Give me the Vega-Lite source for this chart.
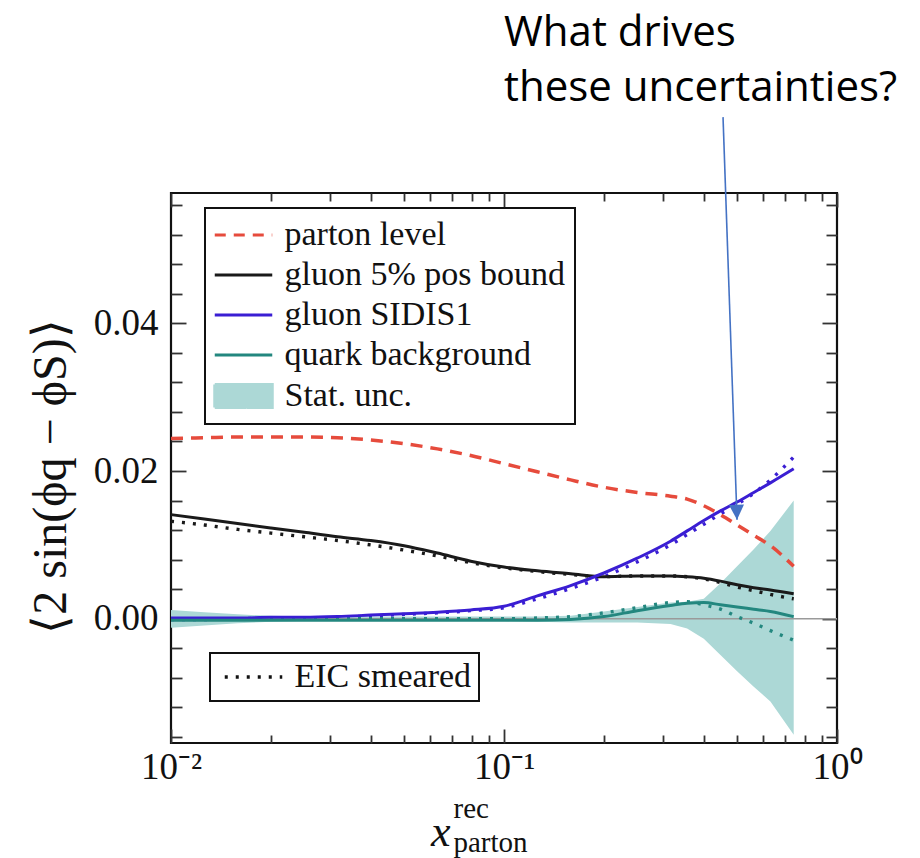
{
  "$schema": "https://vega.github.io/schema/vega-lite/v6.json",
  "width": 666,
  "height": 550,
  "autosize": {"type": "none"},
  "padding": {"left": 171, "top": 193, "right": 83, "bottom": 115},
  "background": "white",
  "config": {
    "view": {"stroke": "#111111", "strokeWidth": 2.2},
    "axis": {
      "grid": false,
      "domain": false,
      "tickColor": "#333333",
      "tickWidth": 1.8,
      "labelFont": "Liberation Serif",
      "labelFontSize": 37,
      "labelColor": "#111111",
      "titleFont": "Liberation Serif",
      "titleColor": "#111111",
      "titleFontWeight": "normal"
    },
    "legend": {
      "labelFont": "Liberation Serif",
      "labelColor": "#111111",
      "strokeColor": "#111111",
      "strokeWidth": 2,
      "fillColor": "white"
    }
  },
  "title": {
    "text": ["What drives", "these uncertainties?"],
    "anchor": "middle",
    "align": "left",
    "frame": "group",
    "font": "Open Sans",
    "fontSize": 42,
    "fontWeight": "normal",
    "color": "#000000",
    "lineHeight": 55,
    "offset": 6
  },
  "resolve": {"axis": {"x": "independent", "y": "independent"}},
  "datasets": {
    "band": [
      {"x": 0.01, "lo": -0.0012, "hi": 0.0012, "series": "Stat. unc."},
      {"x": 0.012589, "lo": -0.0009, "hi": 0.0009, "series": "Stat. unc."},
      {"x": 0.015849, "lo": -0.0006, "hi": 0.0006, "series": "Stat. unc."},
      {"x": 0.019953, "lo": -0.0004, "hi": 0.0004, "series": "Stat. unc."},
      {"x": 0.025119, "lo": -0.0003, "hi": 0.0003, "series": "Stat. unc."},
      {"x": 0.031623, "lo": -0.0003, "hi": 0.0003, "series": "Stat. unc."},
      {"x": 0.039811, "lo": -0.0003, "hi": 0.0003, "series": "Stat. unc."},
      {"x": 0.050119, "lo": -0.0003, "hi": 0.0003, "series": "Stat. unc."},
      {"x": 0.063096, "lo": -0.0003, "hi": 0.0003, "series": "Stat. unc."},
      {"x": 0.079433, "lo": -0.0003, "hi": 0.0003, "series": "Stat. unc."},
      {"x": 0.1, "lo": -0.0003, "hi": 0.0003, "series": "Stat. unc."},
      {"x": 0.125893, "lo": -0.0004, "hi": 0.0003, "series": "Stat. unc."},
      {"x": 0.158489, "lo": -0.0005, "hi": 0.0004, "series": "Stat. unc."},
      {"x": 0.199526, "lo": -0.0005, "hi": 0.0010, "series": "Stat. unc."},
      {"x": 0.251189, "lo": -0.0005, "hi": 0.0016, "series": "Stat. unc."},
      {"x": 0.316228, "lo": -0.0007, "hi": 0.0022, "series": "Stat. unc."},
      {"x": 0.354813, "lo": -0.0013, "hi": 0.0023, "series": "Stat. unc."},
      {"x": 0.398107, "lo": -0.0027, "hi": 0.0027, "series": "Stat. unc."},
      {"x": 0.446684, "lo": -0.0049, "hi": 0.0048, "series": "Stat. unc."},
      {"x": 0.501187, "lo": -0.0071, "hi": 0.0071, "series": "Stat. unc."},
      {"x": 0.562341, "lo": -0.0092, "hi": 0.0094, "series": "Stat. unc."},
      {"x": 0.630957, "lo": -0.0112, "hi": 0.0119, "series": "Stat. unc."},
      {"x": 0.74131, "lo": -0.0157, "hi": 0.0160, "series": "Stat. unc."}
    ],
    "zero": [{"x": 0.01, "x2": 1, "y": 0}],
    "parton": [
      {"x": 0.01, "y": 0.0244, "series": "parton level"},
      {"x": 0.012589, "y": 0.0245, "series": "parton level"},
      {"x": 0.015849, "y": 0.0246, "series": "parton level"},
      {"x": 0.019953, "y": 0.0246, "series": "parton level"},
      {"x": 0.025119, "y": 0.0246, "series": "parton level"},
      {"x": 0.031623, "y": 0.0245, "series": "parton level"},
      {"x": 0.039811, "y": 0.0242, "series": "parton level"},
      {"x": 0.050119, "y": 0.0237, "series": "parton level"},
      {"x": 0.063096, "y": 0.0230, "series": "parton level"},
      {"x": 0.079433, "y": 0.0221, "series": "parton level"},
      {"x": 0.1, "y": 0.0210, "series": "parton level"},
      {"x": 0.125893, "y": 0.0199, "series": "parton level"},
      {"x": 0.158489, "y": 0.0188, "series": "parton level"},
      {"x": 0.199526, "y": 0.0178, "series": "parton level"},
      {"x": 0.251189, "y": 0.0171, "series": "parton level"},
      {"x": 0.316228, "y": 0.0166, "series": "parton level"},
      {"x": 0.354813, "y": 0.0162, "series": "parton level"},
      {"x": 0.398107, "y": 0.0153, "series": "parton level"},
      {"x": 0.446684, "y": 0.0141, "series": "parton level"},
      {"x": 0.501187, "y": 0.0127, "series": "parton level"},
      {"x": 0.562341, "y": 0.0113, "series": "parton level"},
      {"x": 0.630957, "y": 0.0099, "series": "parton level"},
      {"x": 0.74131, "y": 0.0071, "series": "parton level"}
    ],
    "solid": [
      {"x": 0.01, "y": 0.0141, "series": "gluon 5% pos bound"},
      {"x": 0.012589, "y": 0.0135, "series": "gluon 5% pos bound"},
      {"x": 0.015849, "y": 0.0129, "series": "gluon 5% pos bound"},
      {"x": 0.019953, "y": 0.0123, "series": "gluon 5% pos bound"},
      {"x": 0.025119, "y": 0.0117, "series": "gluon 5% pos bound"},
      {"x": 0.031623, "y": 0.0111, "series": "gluon 5% pos bound"},
      {"x": 0.039811, "y": 0.0106, "series": "gluon 5% pos bound"},
      {"x": 0.050119, "y": 0.0099, "series": "gluon 5% pos bound"},
      {"x": 0.063096, "y": 0.0089, "series": "gluon 5% pos bound"},
      {"x": 0.079433, "y": 0.0078, "series": "gluon 5% pos bound"},
      {"x": 0.1, "y": 0.0070, "series": "gluon 5% pos bound"},
      {"x": 0.125893, "y": 0.0065, "series": "gluon 5% pos bound"},
      {"x": 0.158489, "y": 0.0061, "series": "gluon 5% pos bound"},
      {"x": 0.199526, "y": 0.0057, "series": "gluon 5% pos bound"},
      {"x": 0.251189, "y": 0.0058, "series": "gluon 5% pos bound"},
      {"x": 0.316228, "y": 0.0058, "series": "gluon 5% pos bound"},
      {"x": 0.354813, "y": 0.0057, "series": "gluon 5% pos bound"},
      {"x": 0.398107, "y": 0.0055, "series": "gluon 5% pos bound"},
      {"x": 0.446684, "y": 0.0051, "series": "gluon 5% pos bound"},
      {"x": 0.501187, "y": 0.0046, "series": "gluon 5% pos bound"},
      {"x": 0.562341, "y": 0.0042, "series": "gluon 5% pos bound"},
      {"x": 0.630957, "y": 0.0039, "series": "gluon 5% pos bound"},
      {"x": 0.74131, "y": 0.0034, "series": "gluon 5% pos bound"},
      {"x": 0.01, "y": 0.0001, "series": "gluon SIDIS1"},
      {"x": 0.012589, "y": 0.0001, "series": "gluon SIDIS1"},
      {"x": 0.015849, "y": 0.0001, "series": "gluon SIDIS1"},
      {"x": 0.019953, "y": 0.0002, "series": "gluon SIDIS1"},
      {"x": 0.025119, "y": 0.0002, "series": "gluon SIDIS1"},
      {"x": 0.031623, "y": 0.0003, "series": "gluon SIDIS1"},
      {"x": 0.039811, "y": 0.0005, "series": "gluon SIDIS1"},
      {"x": 0.050119, "y": 0.0007, "series": "gluon SIDIS1"},
      {"x": 0.063096, "y": 0.0009, "series": "gluon SIDIS1"},
      {"x": 0.079433, "y": 0.0012, "series": "gluon SIDIS1"},
      {"x": 0.1, "y": 0.0017, "series": "gluon SIDIS1"},
      {"x": 0.125893, "y": 0.0031, "series": "gluon SIDIS1"},
      {"x": 0.158489, "y": 0.0045, "series": "gluon SIDIS1"},
      {"x": 0.199526, "y": 0.0062, "series": "gluon SIDIS1"},
      {"x": 0.251189, "y": 0.0082, "series": "gluon SIDIS1"},
      {"x": 0.316228, "y": 0.0105, "series": "gluon SIDIS1"},
      {"x": 0.354813, "y": 0.0119, "series": "gluon SIDIS1"},
      {"x": 0.398107, "y": 0.0133, "series": "gluon SIDIS1"},
      {"x": 0.446684, "y": 0.0146, "series": "gluon SIDIS1"},
      {"x": 0.501187, "y": 0.0158, "series": "gluon SIDIS1"},
      {"x": 0.562341, "y": 0.0171, "series": "gluon SIDIS1"},
      {"x": 0.630957, "y": 0.0184, "series": "gluon SIDIS1"},
      {"x": 0.74131, "y": 0.0203, "series": "gluon SIDIS1"},
      {"x": 0.01, "y": -0.0002, "series": "quark background"},
      {"x": 0.012589, "y": -0.0002, "series": "quark background"},
      {"x": 0.015849, "y": -0.0002, "series": "quark background"},
      {"x": 0.019953, "y": -0.0002, "series": "quark background"},
      {"x": 0.025119, "y": -0.0002, "series": "quark background"},
      {"x": 0.031623, "y": -0.0002, "series": "quark background"},
      {"x": 0.039811, "y": -0.0002, "series": "quark background"},
      {"x": 0.050119, "y": -0.0002, "series": "quark background"},
      {"x": 0.063096, "y": -0.0002, "series": "quark background"},
      {"x": 0.079433, "y": -0.0002, "series": "quark background"},
      {"x": 0.1, "y": -0.0002, "series": "quark background"},
      {"x": 0.125893, "y": -0.0002, "series": "quark background"},
      {"x": 0.158489, "y": -0.0001, "series": "quark background"},
      {"x": 0.199526, "y": 0.0003, "series": "quark background"},
      {"x": 0.251189, "y": 0.0011, "series": "quark background"},
      {"x": 0.316228, "y": 0.0018, "series": "quark background"},
      {"x": 0.354813, "y": 0.0021, "series": "quark background"},
      {"x": 0.398107, "y": 0.0022, "series": "quark background"},
      {"x": 0.446684, "y": 0.0019, "series": "quark background"},
      {"x": 0.501187, "y": 0.0016, "series": "quark background"},
      {"x": 0.562341, "y": 0.0013, "series": "quark background"},
      {"x": 0.630957, "y": 0.0010, "series": "quark background"},
      {"x": 0.74131, "y": 0.0003, "series": "quark background"}
    ],
    "smeared": [
      {"x": 0.01, "y": 0.0132, "series": "gluon 5% pos bound", "smear": "EIC smeared"},
      {"x": 0.012589, "y": 0.0127, "series": "gluon 5% pos bound", "smear": "EIC smeared"},
      {"x": 0.015849, "y": 0.0121, "series": "gluon 5% pos bound", "smear": "EIC smeared"},
      {"x": 0.019953, "y": 0.0116, "series": "gluon 5% pos bound", "smear": "EIC smeared"},
      {"x": 0.025119, "y": 0.0111, "series": "gluon 5% pos bound", "smear": "EIC smeared"},
      {"x": 0.031623, "y": 0.0106, "series": "gluon 5% pos bound", "smear": "EIC smeared"},
      {"x": 0.039811, "y": 0.0100, "series": "gluon 5% pos bound", "smear": "EIC smeared"},
      {"x": 0.050119, "y": 0.0093, "series": "gluon 5% pos bound", "smear": "EIC smeared"},
      {"x": 0.063096, "y": 0.0085, "series": "gluon 5% pos bound", "smear": "EIC smeared"},
      {"x": 0.079433, "y": 0.0076, "series": "gluon 5% pos bound", "smear": "EIC smeared"},
      {"x": 0.1, "y": 0.0069, "series": "gluon 5% pos bound", "smear": "EIC smeared"},
      {"x": 0.125893, "y": 0.0064, "series": "gluon 5% pos bound", "smear": "EIC smeared"},
      {"x": 0.158489, "y": 0.0060, "series": "gluon 5% pos bound", "smear": "EIC smeared"},
      {"x": 0.199526, "y": 0.0057, "series": "gluon 5% pos bound", "smear": "EIC smeared"},
      {"x": 0.251189, "y": 0.0058, "series": "gluon 5% pos bound", "smear": "EIC smeared"},
      {"x": 0.316228, "y": 0.0058, "series": "gluon 5% pos bound", "smear": "EIC smeared"},
      {"x": 0.354813, "y": 0.0057, "series": "gluon 5% pos bound", "smear": "EIC smeared"},
      {"x": 0.398107, "y": 0.0054, "series": "gluon 5% pos bound", "smear": "EIC smeared"},
      {"x": 0.446684, "y": 0.0049, "series": "gluon 5% pos bound", "smear": "EIC smeared"},
      {"x": 0.501187, "y": 0.0043, "series": "gluon 5% pos bound", "smear": "EIC smeared"},
      {"x": 0.562341, "y": 0.0038, "series": "gluon 5% pos bound", "smear": "EIC smeared"},
      {"x": 0.630957, "y": 0.0033, "series": "gluon 5% pos bound", "smear": "EIC smeared"},
      {"x": 0.74131, "y": 0.0027, "series": "gluon 5% pos bound", "smear": "EIC smeared"},
      {"x": 0.01, "y": -0.0001, "series": "gluon SIDIS1", "smear": "EIC smeared"},
      {"x": 0.012589, "y": -0.0001, "series": "gluon SIDIS1", "smear": "EIC smeared"},
      {"x": 0.015849, "y": 0.0000, "series": "gluon SIDIS1", "smear": "EIC smeared"},
      {"x": 0.019953, "y": 0.0001, "series": "gluon SIDIS1", "smear": "EIC smeared"},
      {"x": 0.025119, "y": 0.0001, "series": "gluon SIDIS1", "smear": "EIC smeared"},
      {"x": 0.031623, "y": 0.0002, "series": "gluon SIDIS1", "smear": "EIC smeared"},
      {"x": 0.039811, "y": 0.0004, "series": "gluon SIDIS1", "smear": "EIC smeared"},
      {"x": 0.050119, "y": 0.0006, "series": "gluon SIDIS1", "smear": "EIC smeared"},
      {"x": 0.063096, "y": 0.0008, "series": "gluon SIDIS1", "smear": "EIC smeared"},
      {"x": 0.079433, "y": 0.0011, "series": "gluon SIDIS1", "smear": "EIC smeared"},
      {"x": 0.1, "y": 0.0015, "series": "gluon SIDIS1", "smear": "EIC smeared"},
      {"x": 0.125893, "y": 0.0027, "series": "gluon SIDIS1", "smear": "EIC smeared"},
      {"x": 0.158489, "y": 0.0041, "series": "gluon SIDIS1", "smear": "EIC smeared"},
      {"x": 0.199526, "y": 0.0057, "series": "gluon SIDIS1", "smear": "EIC smeared"},
      {"x": 0.251189, "y": 0.0077, "series": "gluon SIDIS1", "smear": "EIC smeared"},
      {"x": 0.316228, "y": 0.0100, "series": "gluon SIDIS1", "smear": "EIC smeared"},
      {"x": 0.354813, "y": 0.0114, "series": "gluon SIDIS1", "smear": "EIC smeared"},
      {"x": 0.398107, "y": 0.0128, "series": "gluon SIDIS1", "smear": "EIC smeared"},
      {"x": 0.446684, "y": 0.0142, "series": "gluon SIDIS1", "smear": "EIC smeared"},
      {"x": 0.501187, "y": 0.0155, "series": "gluon SIDIS1", "smear": "EIC smeared"},
      {"x": 0.562341, "y": 0.0170, "series": "gluon SIDIS1", "smear": "EIC smeared"},
      {"x": 0.630957, "y": 0.0188, "series": "gluon SIDIS1", "smear": "EIC smeared"},
      {"x": 0.74131, "y": 0.0219, "series": "gluon SIDIS1", "smear": "EIC smeared"},
      {"x": 0.01, "y": 0.0000, "series": "quark background", "smear": "EIC smeared"},
      {"x": 0.012589, "y": 0.0000, "series": "quark background", "smear": "EIC smeared"},
      {"x": 0.015849, "y": 0.0000, "series": "quark background", "smear": "EIC smeared"},
      {"x": 0.019953, "y": 0.0000, "series": "quark background", "smear": "EIC smeared"},
      {"x": 0.025119, "y": 0.0000, "series": "quark background", "smear": "EIC smeared"},
      {"x": 0.031623, "y": 0.0000, "series": "quark background", "smear": "EIC smeared"},
      {"x": 0.039811, "y": 0.0000, "series": "quark background", "smear": "EIC smeared"},
      {"x": 0.050119, "y": 0.0000, "series": "quark background", "smear": "EIC smeared"},
      {"x": 0.063096, "y": 0.0000, "series": "quark background", "smear": "EIC smeared"},
      {"x": 0.079433, "y": 0.0000, "series": "quark background", "smear": "EIC smeared"},
      {"x": 0.1, "y": 0.0000, "series": "quark background", "smear": "EIC smeared"},
      {"x": 0.125893, "y": 0.0001, "series": "quark background", "smear": "EIC smeared"},
      {"x": 0.158489, "y": 0.0003, "series": "quark background", "smear": "EIC smeared"},
      {"x": 0.199526, "y": 0.0008, "series": "quark background", "smear": "EIC smeared"},
      {"x": 0.251189, "y": 0.0015, "series": "quark background", "smear": "EIC smeared"},
      {"x": 0.316228, "y": 0.0022, "series": "quark background", "smear": "EIC smeared"},
      {"x": 0.354813, "y": 0.0023, "series": "quark background", "smear": "EIC smeared"},
      {"x": 0.398107, "y": 0.0019, "series": "quark background", "smear": "EIC smeared"},
      {"x": 0.446684, "y": 0.0013, "series": "quark background", "smear": "EIC smeared"},
      {"x": 0.501187, "y": 0.0003, "series": "quark background", "smear": "EIC smeared"},
      {"x": 0.562341, "y": -0.0006, "series": "quark background", "smear": "EIC smeared"},
      {"x": 0.630957, "y": -0.0016, "series": "quark background", "smear": "EIC smeared"},
      {"x": 0.74131, "y": -0.0029, "series": "quark background", "smear": "EIC smeared"}
    ],
    "arrow": [{"x": 0.4547, "y": 0.0679, "xtip": 0.5009, "ytip": 0.0134}]
  },
  "layer": [
    {
      "data": {"name": "band"},
      "mark": {"type": "area", "interpolate": "linear", "opacity": 1},
      "encoding": {
        "x": {
          "field": "x", "type": "quantitative",
          "scale": {"type": "log", "domain": [0.01, 1], "nice": false},
          "axis": {
            "orient": "bottom", "values": [0.01, 0.1, 1], "ticks": false,
            "labelExpr": "datum.value < 0.05 ? '10⁻²' : datum.value < 0.5 ? '10⁻¹' : '10⁰'",
            "labelPadding": 6, "labelFlush": false, "labelBaseline": "top",
            "title": "x", "titleFontStyle": "italic", "titleFontSize": 44,
            "titleAlign": "right", "titleBaseline": "alphabetic", "titleX": 279, "titleY": 102
          }
        },
        "y": {
          "field": "lo", "type": "quantitative",
          "scale": {"domain": [-0.01681, 0.05763], "nice": false, "zero": false},
          "axis": {
            "orient": "left", "values": [0, 0.02, 0.04], "ticks": false, "format": ".2f",
            "labelPadding": 13,
            "title": "⟨2 sin(ϕq − ϕS)⟩", "titleFontSize": 48, "titleAngle": 270,
            "titleX": -120, "titleY": 283, "titleBaseline": "middle", "titleAlign": "center"
          }
        },
        "y2": {"field": "hi"},
        "color": {
          "field": "series", "type": "nominal",
          "scale": {
            "domain": ["parton level", "gluon 5% pos bound", "gluon SIDIS1", "quark background", "Stat. unc."],
            "range": ["#e64b3c", "#1a1a1a", "#3a1ed3", "#23877f", "#acd8d6"]
          },
          "legend": {
            "title": null, "orient": "none", "legendX": 34, "legendY": 15,
            "padding": 10, "rowPadding": 6, "labelFontSize": 34, "labelLimit": 0,
            "symbolType": {"expr": "datum.value === 'Stat. unc.' ? 'M-2.5,-1H2.5V1H-2.5Z' : 'M-2.5,0H2.5'"},
            "symbolDash": {"expr": "datum.value === 'parton level' ? [11, 8] : [1, 0]"},
            "symbolFillColor": {"expr": "datum.value === 'Stat. unc.' ? '#acd8d6' : 'transparent'"},
            "symbolSize": 529, "symbolStrokeWidth": 3,
            "symbolOffset": 11.5, "labelOffset": 24
          }
        }
      }
    },
    {
      "data": {"name": "zero"},
      "mark": {"type": "rule", "color": "#9a9a9a", "strokeWidth": 1.5},
      "encoding": {
        "x": {
          "field": "x", "type": "quantitative",
          "scale": {"type": "log", "domain": [0.01, 1], "nice": false},
          "axis": {"orient": "top", "values": [0.01, 0.1, 1], "tickSize": -14, "labels": false, "title": null}
        },
        "x2": {"field": "x2"},
        "y": {
          "field": "y", "type": "quantitative",
          "scale": {"domain": [-0.01681, 0.05763], "nice": false, "zero": false},
          "axis": {
            "orient": "right",
            "values": [-0.016, -0.012, -0.008, -0.004, 0.004, 0.008, 0.012, 0.016, 0.024, 0.028, 0.032, 0.036, 0.044, 0.048, 0.052, 0.056],
            "tickSize": -11, "labels": false, "title": null
          }
        }
      }
    },
    {
      "data": {"name": "smeared"},
      "mark": {"type": "line", "interpolate": "monotone", "strokeWidth": 3.4, "strokeCap": "butt"},
      "encoding": {
        "x": {
          "field": "x", "type": "quantitative",
          "scale": {"type": "log", "domain": [0.01, 1], "nice": false},
          "axis": {
            "orient": "bottom", "values": [0.01, 0.1, 1], "tickSize": -14, "labels": false,
            "title": ["rec", "parton"], "titleFontSize": 29, "titleAlign": "left",
            "titleBaseline": "alphabetic", "titleLineHeight": 34, "titleX": 282, "titleY": 74
          }
        },
        "y": {
          "field": "y", "type": "quantitative",
          "scale": {"domain": [-0.01681, 0.05763], "nice": false, "zero": false},
          "axis": {
            "orient": "left",
            "values": [-0.016, -0.012, -0.008, -0.004, 0.004, 0.008, 0.012, 0.016, 0.024, 0.028, 0.032, 0.036, 0.044, 0.048, 0.052, 0.056],
            "tickSize": -11, "labels": false, "title": null
          }
        },
        "color": {
          "field": "series", "type": "nominal",
          "scale": {
            "domain": ["parton level", "gluon 5% pos bound", "gluon SIDIS1", "quark background", "Stat. unc."],
            "range": ["#e64b3c", "#1a1a1a", "#3a1ed3", "#23877f", "#acd8d6"]
          }
        },
        "strokeDash": {
          "field": "smear", "type": "nominal",
          "scale": {"domain": ["EIC smeared"], "range": [[3, 8]]},
          "legend": {
            "title": null, "orient": "none", "legendX": 39, "legendY": 460,
            "padding": 7, "labelFontSize": 34, "labelLimit": 0,
            "symbolType": "M-2.5,0H2.5", "symbolSize": 529, "symbolStrokeWidth": 3.4,
            "symbolStrokeColor": "#111111", "symbolOffset": 19.5, "labelOffset": 24
          }
        }
      }
    },
    {
      "data": {"name": "solid"},
      "mark": {"type": "line", "interpolate": "monotone", "strokeWidth": 3},
      "encoding": {
        "x": {
          "field": "x", "type": "quantitative",
          "scale": {"type": "log", "domain": [0.01, 1], "nice": false},
          "axis": {
            "orient": "bottom",
            "values": [0.02, 0.03, 0.04, 0.05, 0.06, 0.07, 0.08, 0.09, 0.2, 0.3, 0.4, 0.5, 0.6, 0.7, 0.8, 0.9],
            "tickSize": -8, "labels": false, "title": null
          }
        },
        "y": {
          "field": "y", "type": "quantitative",
          "scale": {"domain": [-0.01681, 0.05763], "nice": false, "zero": false},
          "axis": null
        },
        "color": {
          "field": "series", "type": "nominal",
          "scale": {
            "domain": ["parton level", "gluon 5% pos bound", "gluon SIDIS1", "quark background", "Stat. unc."],
            "range": ["#e64b3c", "#1a1a1a", "#3a1ed3", "#23877f", "#acd8d6"]
          }
        }
      }
    },
    {
      "data": {"name": "parton"},
      "mark": {"type": "line", "interpolate": "monotone", "strokeWidth": 3.5, "strokeDash": [12, 8]},
      "encoding": {
        "x": {
          "field": "x", "type": "quantitative",
          "scale": {"type": "log", "domain": [0.01, 1], "nice": false},
          "axis": {
            "orient": "top",
            "values": [0.02, 0.03, 0.04, 0.05, 0.06, 0.07, 0.08, 0.09, 0.2, 0.3, 0.4, 0.5, 0.6, 0.7, 0.8, 0.9],
            "tickSize": -8, "labels": false, "title": null
          }
        },
        "y": {
          "field": "y", "type": "quantitative",
          "scale": {"domain": [-0.01681, 0.05763], "nice": false, "zero": false},
          "axis": null
        },
        "color": {
          "field": "series", "type": "nominal",
          "scale": {
            "domain": ["parton level", "gluon 5% pos bound", "gluon SIDIS1", "quark background", "Stat. unc."],
            "range": ["#e64b3c", "#1a1a1a", "#3a1ed3", "#23877f", "#acd8d6"]
          }
        }
      }
    },
    {
      "data": {"name": "arrow"},
      "mark": {"type": "rule", "color": "#4472c4", "strokeWidth": 1.6},
      "encoding": {
        "x": {
          "field": "x", "type": "quantitative",
          "scale": {"type": "log", "domain": [0.01, 1], "nice": false},
          "axis": null
        },
        "x2": {"field": "xtip"},
        "y": {
          "field": "y", "type": "quantitative",
          "scale": {"domain": [-0.01681, 0.05763], "nice": false, "zero": false},
          "axis": {"orient": "left", "values": [0, 0.02, 0.04], "tickSize": -15, "labels": false, "title": null}
        },
        "y2": {"field": "ytip"}
      }
    },
    {
      "data": {"name": "arrow"},
      "mark": {"type": "point", "shape": "M0,0L-1,-2L1,-2Z", "size": 225, "filled": true, "color": "#4472c4", "opacity": 1, "angle": -2},
      "encoding": {
        "x": {
          "field": "xtip", "type": "quantitative",
          "scale": {"type": "log", "domain": [0.01, 1], "nice": false},
          "axis": null
        },
        "y": {
          "field": "ytip", "type": "quantitative",
          "scale": {"domain": [-0.01681, 0.05763], "nice": false, "zero": false},
          "axis": {"orient": "right", "values": [0, 0.02, 0.04], "tickSize": -15, "labels": false, "title": null}
        }
      }
    }
  ]
}
